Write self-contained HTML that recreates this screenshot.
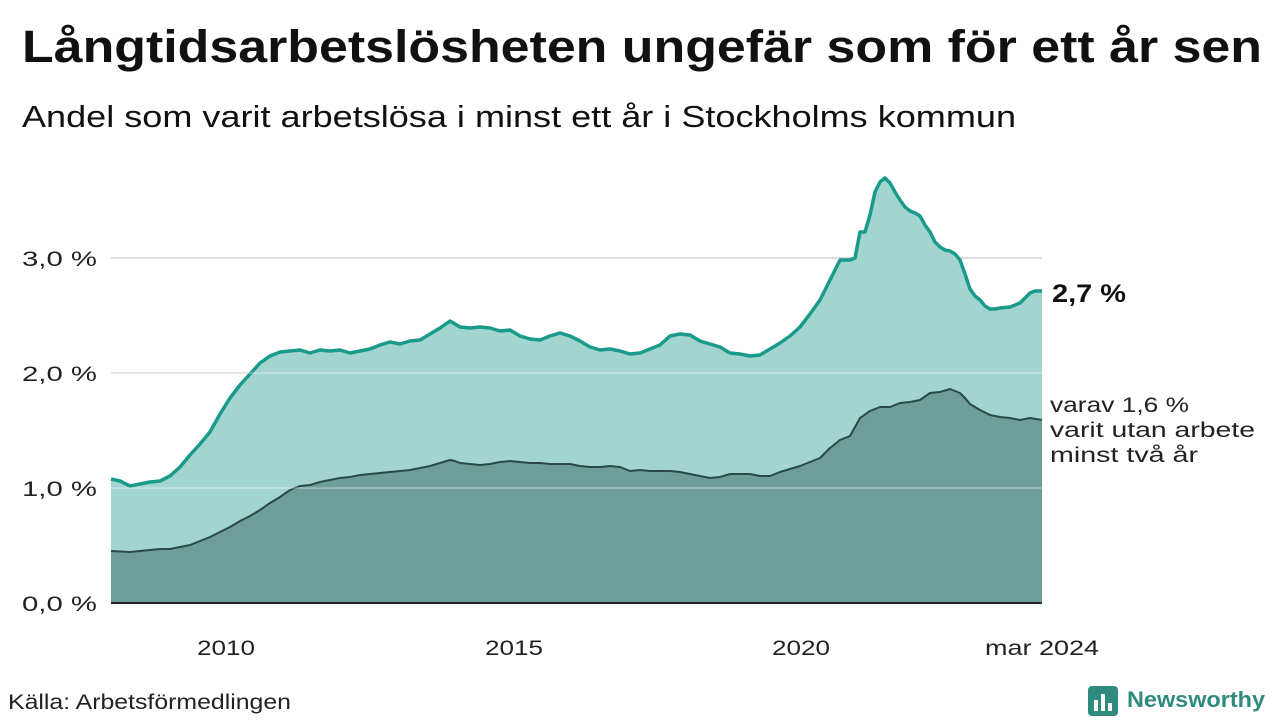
<!DOCTYPE html>
<html><head><meta charset="utf-8">
<style>
html,body{margin:0;padding:0;background:#fff;width:1280px;height:720px;overflow:hidden;font-family:"Liberation Sans",sans-serif;}
</style></head><body>
<svg width="1280" height="720" xmlns="http://www.w3.org/2000/svg" font-family="Liberation Sans, sans-serif">
<text x="22" y="62" font-size="45" font-weight="bold" fill="#111" textLength="1240" lengthAdjust="spacingAndGlyphs">Långtidsarbetslösheten ungefär som för ett år sen</text>
<text x="22" y="127" font-size="31" fill="#111" textLength="994" lengthAdjust="spacingAndGlyphs">Andel som varit arbetslösa i minst ett år i Stockholms kommun</text>
<g stroke="#dddddd" stroke-width="2">
<line x1="111" x2="1042" y1="258" y2="258"/>
<line x1="111" x2="1042" y1="373" y2="373"/>
<line x1="111" x2="1042" y1="488" y2="488"/>
</g>
<g font-size="21" fill="#222">
<text x="22" y="266" textLength="75" lengthAdjust="spacingAndGlyphs">3,0 %</text>
<text x="22" y="381" textLength="75" lengthAdjust="spacingAndGlyphs">2,0 %</text>
<text x="22" y="496" textLength="75" lengthAdjust="spacingAndGlyphs">1,0 %</text>
<text x="22" y="611" textLength="75" lengthAdjust="spacingAndGlyphs">0,0 %</text>
</g>
<path fill="#a3d5d0" stroke="none" d="M111,603 L111,479 L120,481 L130,486 L140,484 L150,482 L160,481 L170,476 L180,467 L190,455 L200,444 L210,432 L220,414 L230,398 L240,385 L250,374 L260,363 L270,356 L280,352 L290,351 L300,350 L310,353 L320,350 L330,351 L340,350 L350,353 L360,351 L370,349 L380,345 L390,342 L400,344 L410,341 L420,340 L430,334 L440,328 L450,321 L460,327 L470,328 L480,327 L490,328 L500,331 L510,330 L520,336 L530,339 L540,340 L550,336 L560,333 L570,336 L580,341 L590,347 L600,350 L610,349 L620,351 L630,354 L640,353 L650,349 L660,345 L670,336 L680,334 L690,335 L700,341 L710,344 L720,347 L730,353 L740,354 L750,356 L760,355 L770,349 L780,343 L790,336 L800,327 L810,314 L820,300 L830,280 L840,260 L850,260 L855,258 L860,232 L865,232 L870,215 L875,192 L880,182 L885,178 L890,183 L895,192 L900,200 L905,207 L910,211 L915,213 L920,216 L925,225 L930,232 L935,242 L940,247 L945,250 L950,251 L955,254 L960,260 L965,274 L970,289 L975,296 L980,300 L985,306 L990,309 L995,309 L1000,308 L1010,307 L1020,303 L1030,293 L1035,291 L1042,291 L1042,603 Z"/>
<path fill="none" stroke="#1a9a8a" stroke-width="3.5" stroke-linejoin="round" d="M111,479 L120,481 L130,486 L140,484 L150,482 L160,481 L170,476 L180,467 L190,455 L200,444 L210,432 L220,414 L230,398 L240,385 L250,374 L260,363 L270,356 L280,352 L290,351 L300,350 L310,353 L320,350 L330,351 L340,350 L350,353 L360,351 L370,349 L380,345 L390,342 L400,344 L410,341 L420,340 L430,334 L440,328 L450,321 L460,327 L470,328 L480,327 L490,328 L500,331 L510,330 L520,336 L530,339 L540,340 L550,336 L560,333 L570,336 L580,341 L590,347 L600,350 L610,349 L620,351 L630,354 L640,353 L650,349 L660,345 L670,336 L680,334 L690,335 L700,341 L710,344 L720,347 L730,353 L740,354 L750,356 L760,355 L770,349 L780,343 L790,336 L800,327 L810,314 L820,300 L830,280 L840,260 L850,260 L855,258 L860,232 L865,232 L870,215 L875,192 L880,182 L885,178 L890,183 L895,192 L900,200 L905,207 L910,211 L915,213 L920,216 L925,225 L930,232 L935,242 L940,247 L945,250 L950,251 L955,254 L960,260 L965,274 L970,289 L975,296 L980,300 L985,306 L990,309 L995,309 L1000,308 L1010,307 L1020,303 L1030,293 L1035,291 L1042,291"/>
<path fill="#6e9e98" stroke="none" d="M111,603 L111,551 L130,552 L140,551 L150,550 L160,549 L170,549 L180,547 L190,545 L200,541 L210,537 L220,532 L230,527 L240,521 L250,516 L260,510 L270,503 L280,497 L290,490 L300,486 L310,485 L320,482 L330,480 L340,478 L350,477 L360,475 L370,474 L380,473 L390,472 L400,471 L410,470 L420,468 L430,466 L440,463 L450,460 L455,461 L460,463 L470,464 L480,465 L490,464 L500,462 L510,461 L520,462 L530,463 L540,463 L550,464 L560,464 L570,464 L580,466 L590,467 L600,467 L610,466 L620,467 L630,471 L640,470 L650,471 L660,471 L670,471 L680,472 L690,474 L700,476 L710,478 L720,477 L730,474 L740,474 L750,474 L760,476 L770,476 L780,472 L790,469 L800,466 L810,462 L820,458 L830,448 L840,440 L850,436 L860,418 L870,411 L880,407 L890,407 L900,403 L910,402 L920,400 L930,393 L940,392 L950,389 L960,393 L965,398 L970,404 L980,410 L990,415 L1000,417 L1010,418 L1020,420 L1030,418 L1042,420 L1042,603 Z"/>
<path fill="none" stroke="#2b4a46" stroke-width="2" stroke-linejoin="round" d="M111,551 L130,552 L140,551 L150,550 L160,549 L170,549 L180,547 L190,545 L200,541 L210,537 L220,532 L230,527 L240,521 L250,516 L260,510 L270,503 L280,497 L290,490 L300,486 L310,485 L320,482 L330,480 L340,478 L350,477 L360,475 L370,474 L380,473 L390,472 L400,471 L410,470 L420,468 L430,466 L440,463 L450,460 L455,461 L460,463 L470,464 L480,465 L490,464 L500,462 L510,461 L520,462 L530,463 L540,463 L550,464 L560,464 L570,464 L580,466 L590,467 L600,467 L610,466 L620,467 L630,471 L640,470 L650,471 L660,471 L670,471 L680,472 L690,474 L700,476 L710,478 L720,477 L730,474 L740,474 L750,474 L760,476 L770,476 L780,472 L790,469 L800,466 L810,462 L820,458 L830,448 L840,440 L850,436 L860,418 L870,411 L880,407 L890,407 L900,403 L910,402 L920,400 L930,393 L940,392 L950,389 L960,393 L965,398 L970,404 L980,410 L990,415 L1000,417 L1010,418 L1020,420 L1030,418 L1042,420"/>
<g stroke="#ffffff" stroke-opacity="0.25" stroke-width="2">
<line x1="111" x2="1042" y1="373" y2="373"/>
<line x1="111" x2="1042" y1="488" y2="488"/>
</g>
<line x1="111" x2="1042" y1="603" y2="603" stroke="#222" stroke-width="2"/>
<g font-size="21" fill="#222">
<text x="197" y="655" textLength="58" lengthAdjust="spacingAndGlyphs">2010</text>
<text x="485" y="655" textLength="58" lengthAdjust="spacingAndGlyphs">2015</text>
<text x="772" y="655" textLength="58" lengthAdjust="spacingAndGlyphs">2020</text>
<text x="985" y="655" textLength="114" lengthAdjust="spacingAndGlyphs">mar 2024</text>
</g>
<text x="1052" y="302" font-size="25" font-weight="bold" fill="#111" textLength="74" lengthAdjust="spacingAndGlyphs">2,7 %</text>
<g font-size="21" fill="#222">
<text x="1050" y="412" textLength="139" lengthAdjust="spacingAndGlyphs">varav 1,6 %</text>
<text x="1050" y="437" textLength="205" lengthAdjust="spacingAndGlyphs">varit utan arbete</text>
<text x="1050" y="462" textLength="148" lengthAdjust="spacingAndGlyphs">minst två år</text>
</g>
<text x="8" y="709" font-size="21" fill="#222" textLength="283" lengthAdjust="spacingAndGlyphs">Källa: Arbetsförmedlingen</text>
<rect x="1088" y="686" width="30" height="30" rx="4" fill="#2e8b7e"/>
<g fill="#fff"><rect x="1094" y="700" width="4" height="11"/><rect x="1101" y="694" width="4" height="17"/><rect x="1108" y="703" width="4" height="8"/></g>
<text x="1127" y="707" font-size="22" font-weight="bold" fill="#2e8b7e" textLength="138" lengthAdjust="spacingAndGlyphs">Newsworthy</text>
</svg>
</body></html>
